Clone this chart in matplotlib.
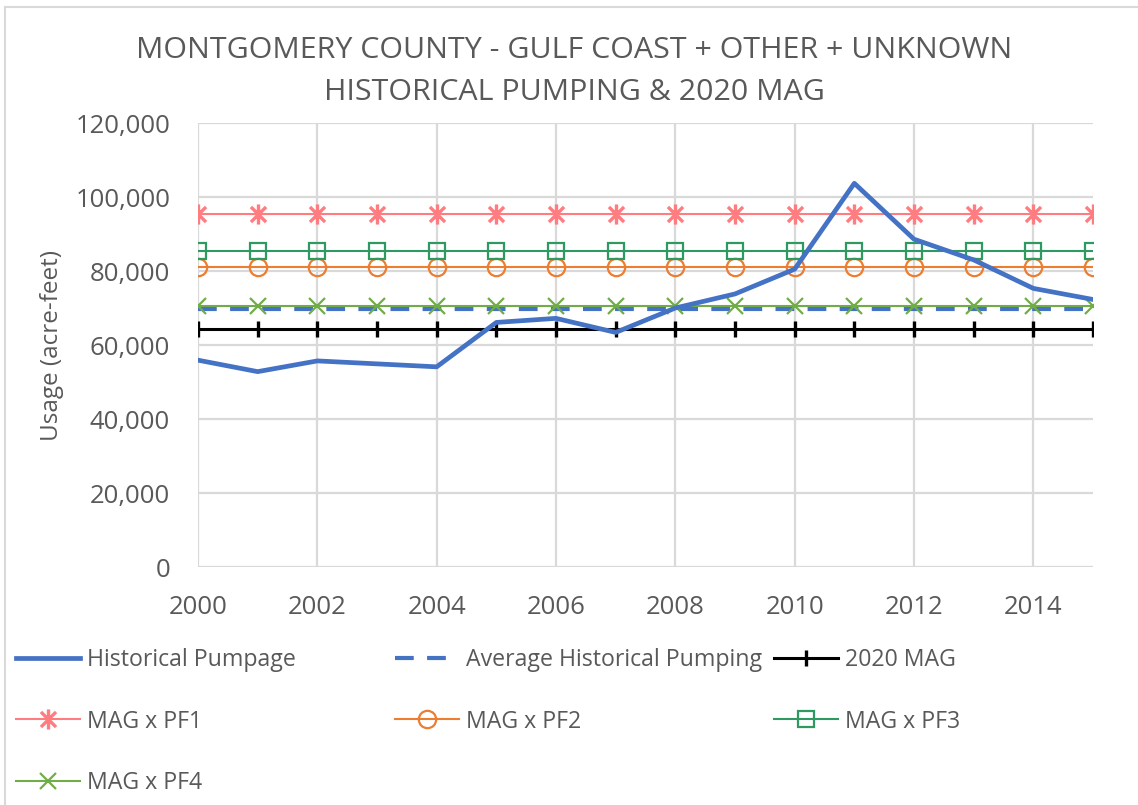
import matplotlib
matplotlib.use("Agg")
import matplotlib.pyplot as plt
from matplotlib.path import Path
from matplotlib.lines import Line2D

plt.rcParams['font.family'] = ['Open Sans', 'DejaVu Sans']

years = list(range(2000, 2016))
historical_pumpage = [55900, 52800, 55700, 54900, 54100, 66100, 67200, 63400,
                      70000, 73800, 80500, 103700, 88600, 83000, 75300, 72300]
average_historical = 69700
mag_2020 = 64200
mag_pf1 = 95300
mag_pf2 = 81000
mag_pf3 = 85500
mag_pf4 = 70500

title_lines = ["MONTGOMERY COUNTY - GULF COAST + OTHER + UNKNOWN",
               "HISTORICAL PUMPING & 2020 MAG"]
y_label = "Usage (acre-feet)"
x_ticks = list(range(2000, 2016, 2))
y_ticks = list(range(0, 120001, 20000))

text_grey = "#595959"
grid_grey = "#D9D9D9"

W, H = 1138, 805
fig = plt.figure(figsize=(W / 100, H / 100), dpi=100)
ax = fig.add_axes([198 / W, 1 - 567 / H, (1093 - 198) / W, (567 - 123) / H])

# asterisk marker: vertical bar plus an x
star = Path([(0, -1), (0, 1), (-0.75, -0.75), (0.75, 0.75), (-0.75, 0.75), (0.75, -0.75)],
            [Path.MOVETO, Path.LINETO, Path.MOVETO, Path.LINETO, Path.MOVETO, Path.LINETO])

def flat(v):
    return [v] * len(years)

h_hist, = ax.plot(years, historical_pumpage, color="#4472C4", lw=3.4,
                  solid_joinstyle="round", zorder=6, label="Historical Pumpage")
h_avg, = ax.plot(years, flat(average_historical), color="#4472C4", lw=3.0,
                 dashes=(4.5, 3.2), zorder=4, label="Average Historical Pumping")
h_mag, = ax.plot(years, flat(mag_2020), color="black", lw=2.2, marker="|",
                 markersize=12, markeredgewidth=2.4, zorder=5, label="2020 MAG")
h_pf1, = ax.plot(years, flat(mag_pf1), color="#FF7C80", lw=1.5, marker=star,
                 markersize=14.5, markeredgewidth=2.4, fillstyle="none", zorder=5,
                 label="MAG x PF1")
h_pf2, = ax.plot(years, flat(mag_pf2), color="#ED7D31", lw=1.5, marker="o",
                 markersize=12.5, markeredgewidth=1.6, markerfacecolor="none",
                 zorder=5, label="MAG x PF2")
h_pf3, = ax.plot(years, flat(mag_pf3), color="#2E9A62", lw=1.5, marker="s",
                 markersize=12, markeredgewidth=1.6, markerfacecolor="none",
                 zorder=5, label="MAG x PF3")
h_pf4, = ax.plot(years, flat(mag_pf4), color="#70AD47", lw=1.5, marker="x",
                 markersize=11, markeredgewidth=1.6, zorder=5, label="MAG x PF4")

ax.set_xlim(2000, 2015)
ax.set_ylim(0, 120000)
ax.set_xticks(x_ticks)
ax.set_yticks(y_ticks)
ax.set_yticklabels([f"{v:,}" for v in y_ticks])
ax.grid(True, color=grid_grey, lw=1.6, zorder=0)
ax.set_axisbelow(True)
for s in ax.spines.values():
    s.set_visible(False)
ax.tick_params(length=0, labelsize=18.5, labelcolor=text_grey)
ax.tick_params(axis="y", pad=20)
ax.tick_params(axis="x", pad=20)

fig.text(52 / W, 1 - 345 / H, y_label, rotation=90, ha="center", va="center",
         fontsize=17.5, color=text_grey)
fig.text(574 / W, 1 - 51 / H, title_lines[0], ha="center", va="center",
         fontsize=21.9, color=text_grey)
fig.text(574 / W, 1 - 93 / H, title_lines[1], ha="center", va="center",
         fontsize=21.9, color=text_grey)

# chart frame edges
fig.add_artist(Line2D([5 / W, 1], [1 - 7 / H, 1 - 7 / H], color=grid_grey, lw=1.5))
fig.add_artist(Line2D([5 / W, 5 / W], [0, 1 - 7 / H], color=grid_grey, lw=1.5))

legend_cols = [([h_hist, h_pf1, h_pf4], 16),
               ([h_avg, h_pf2], 395),
               ([h_mag, h_pf3], 774)]
for handles, x0 in legend_cols:
    fig.legend(handles=handles, loc="upper left",
               bbox_to_anchor=(x0 / W, 1 - 648 / H), frameon=False,
               fontsize=16.7, labelcolor=text_grey, handlelength=2.75,
               handletextpad=0.3, labelspacing=1.62, borderpad=0,
               borderaxespad=0)

fig.savefig("out.png", dpi=100, facecolor="white")
